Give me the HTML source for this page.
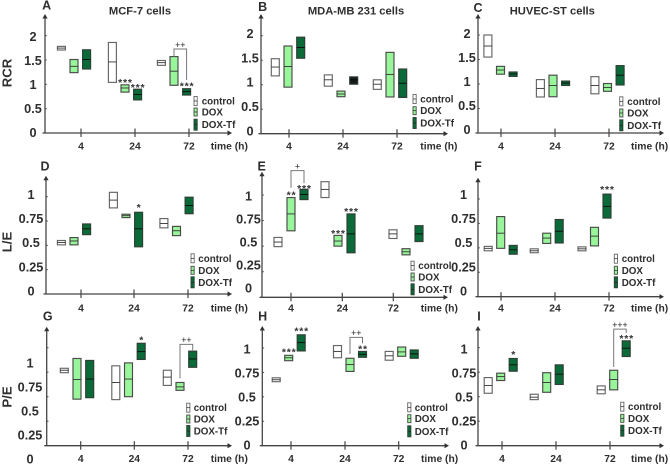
<!DOCTYPE html>
<html>
<head>
<meta charset="utf-8">
<title>Respiratory ratios by cell line</title>
<style>
html,body{margin:0;padding:0;background:#fff;width:670px;height:465px;overflow:hidden}
#chart{display:block;filter:blur(0.35px)}
text{font-family:"Liberation Sans",sans-serif;font-weight:bold;fill:#2e2e2e}
</style>
</head>
<body>
<svg id="chart" width="670" height="465" viewBox="0 0 670 465" xmlns="http://www.w3.org/2000/svg"></svg>
<script>
const huvecPeRatio = [[0.535,0.615,0.695],[0.665,0.705,0.74],[0.76,0.825,0.89],[0.47,0.495,0.525],[0.545,0.645,0.745],[0.625,0.73,0.825],[0.53,0.57,0.61],[0.57,0.675,0.77],[0.91,0.995,1.07]];
const mdaPeRatio = [[0.655,0.675,0.695],[0.87,0.9,0.925],[0.97,1.055,1.135],[0.9,0.965,1.025],[0.76,0.83,0.895],[0.905,0.935,0.965],[0.875,0.92,0.965],[0.915,0.96,1.01],[0.895,0.94,0.98]];
const mcf7PeRatio = [[0.745,0.77,0.79],[0.475,0.675,0.89],[0.49,0.68,0.87],[0.47,0.645,0.815],[0.5,0.68,0.845],[0.88,0.96,1.045],[0.615,0.7,0.77],[0.565,0.6,0.645],[0.8,0.885,0.965]];
const categories = ['4', '24', '72'];
const seriesNames = ['control', 'DOX', 'DOX-Tf'];
const rcrTicks = [0, 0.5, 1, 1.5, 2];
const ratioTicks = [0, 0.25, 0.5, 0.75, 1];

// Each entry: [low, median, high]; order: control, DOX, DOX-Tf at 4 h, then 24 h, then 72 h.
const mcf7Rcr = [[1.705,1.745,1.78],[1.24,1.37,1.51],[1.315,1.51,1.71],[1.04,1.46,1.86],[0.84,0.925,0.99],[0.68,0.79,0.9],[1.39,1.445,1.49],[0.98,1.27,1.57],[0.78,0.85,0.91]];
const mdaRcr = [[1.18,1.36,1.53],[0.95,1.37,1.79],[1.54,1.76,1.97],[0.97,1.1,1.2],[0.755,0.81,0.87],[1.01,1.1,1.16],[0.905,1.01,1.1],[0.75,1.21,1.66],[0.74,1.03,1.32]];
const huvecRcr = [[1.55,1.775,2.0],[1.2,1.285,1.36],[1.155,1.205,1.245],[0.735,0.91,1.09],[0.74,0.97,1.18],[0.97,1.02,1.06],[0.8,0.97,1.15],[0.85,0.93,1.01],[0.98,1.18,1.375]];
const mcf7Le = [[0.505,0.53,0.55],[0.505,0.545,0.58],[0.61,0.67,0.72],[0.885,0.965,1.045],[0.785,0.805,0.82],[0.485,0.67,0.84],[0.68,0.725,0.775],[0.6,0.65,0.695],[0.825,0.91,0.995]];
const mdaLe = [[0.495,0.54,0.585],[0.65,0.815,0.975],[0.955,1.005,1.055],[0.975,1.055,1.13],[0.5,0.55,0.605],[0.435,0.62,0.815],[0.575,0.62,0.66],[0.415,0.445,0.475],[0.545,0.62,0.7]];
const huvecLe = [[0.47,0.495,0.515],[0.495,0.65,0.82],[0.435,0.48,0.525],[0.45,0.47,0.49],[0.545,0.6,0.65],[0.55,0.67,0.79],[0.47,0.49,0.51],[0.52,0.62,0.71],[0.805,0.925,1.05]];

const seriesFill = ['#ffffff', '#98f59a', '#0a6a38'];
const seriesStroke = ['#666666', '#4a4a4a', '#2f3f35'];
const legendHeights = [9, 8, 11];
const boxWidth = 8;
const svg = document.getElementById('chart');

function add(parent, tag, attrs, content) {
  const el = document.createElementNS('http://www.w3.org/2000/svg', tag);
  for (const k in attrs) el.setAttribute(k, attrs[k]);
  if (content !== undefined) el.textContent = content;
  parent.appendChild(el);
  return el;
}

const panels = [
  {id:'a',letter:'A',lx:46.7,ly:5,values:mcf7Rcr,ticks:rcrTicks,title:'MCF-7 cells',tx:140,yTitle:'RCR',yTitleY:73,ax:45,base:133,top:14,end:232,unit:48.67,xt:[81,135,189],gc:[74,125,174],sp:12.6,lbX:33,lbZero:132.3,lbStep:48,xLabY:146,timeX:210.7,
   leg:{bx:194,tx:201.7,ys:[101,112,124.7]},stars:[[4,'***',4.7],[5,'***',4],[8,'***',5]],br:[{from:7,to:8,rise:39.7,lg:0,rg:8.7,label:'++'}]},
  {id:'b',letter:'B',lx:262.7,ly:6.7,values:mdaRcr,ticks:rcrTicks,title:'MDA-MB 231 cells',tx:356,yTitle:null,ax:261,base:133.7,top:14,end:448,unit:49,xt:[289,343,397],gc:[288,341,390],sp:12.7,lbX:250,lbZero:130.7,lbStep:48.6,xLabY:146,timeX:420.3,
   leg:{bx:413,tx:420.3,ys:[99,110.7,123]},stars:[],br:[]},
  {id:'c',letter:'C',lx:478,ly:7.3,values:huvecRcr,ticks:rcrTicks,title:'HUVEC-ST cells',tx:552.3,yTitle:null,ax:478,base:133,top:14,end:664,unit:49,xt:[501,555,609],gc:[500.5,553,607.5],sp:12.6,lbX:467,lbZero:129.3,lbStep:48,xLabY:146,timeX:631,
   leg:{bx:619.7,tx:627.3,ys:[101.3,113,125.3]},stars:[],br:[]},
  {id:'d',letter:'D',lx:45,ly:166,values:mcf7Le,ticks:ratioTicks,title:null,yTitle:'L/E',yTitleY:242,ax:46,base:294,top:175.7,end:232,unit:97.3,xt:[81,134,188],gc:[74,126,176.5],sp:12.6,lbX:31,lbZero:291,lbStep:96.8,xLabY:307.7,timeX:210.7,
   leg:{bx:191,tx:198.3,ys:[258.3,270.3,282.3]},stars:[[5,'*',7]],br:[]},
  {id:'e',letter:'E',lx:261.7,ly:166,values:mdaLe,ticks:ratioTicks,title:null,yTitle:null,ax:262,base:297.3,top:171.7,end:448,unit:102.3,xt:[291,342.3,393.3],gc:[291,338,406],sp:13,lbX:248.5,lbZero:287.7,lbStep:92,xLabY:307.7,timeX:420.7,
   leg:{bx:411,tx:418.3,ys:[265.7,277,289.3]},stars:[[1,'**',5],[2,'***',3],[4,'***',4],[5,'***',4.5]],br:[{from:1,to:2,rise:18.7,lg:9.7,rg:6.3,label:'+'}]},
  {id:'f',letter:'F',lx:478,ly:166,values:huvecLe,ticks:ratioTicks,title:null,yTitle:null,ax:478,base:296.7,top:177.7,end:664,unit:97.7,xt:[501,555,609],gc:[500.7,546.7,594.5],sp:12.5,lbX:463.5,lbZero:291,lbStep:96.8,xLabY:307.7,timeX:631,
   leg:{bx:614.3,tx:621.7,ys:[258.7,270.3,282.3]},stars:[[8,'***',7]],br:[]},
  {id:'g',letter:'G',lx:47.7,ly:316,values:mcf7PeRatio,ticks:ratioTicks,title:null,yTitle:'P/E',yTitleY:397,ax:46.7,base:445.7,top:326.7,end:232,unit:98,xt:[80.7,134.3,188],gc:[77,128.5,180],sp:12.7,lbX:30,lbZero:459,lbStep:96,xLabY:458.3,timeX:210.7,
   leg:{bx:186.7,tx:193.7,ys:[407.7,419,431]},stars:[[5,'*',5.5]],br:[{from:7,to:8,rise:6.7,lg:4.3,rg:1,label:'++'}]},
  {id:'h',letter:'H',lx:262.7,ly:316,values:mdaPeRatio,ticks:ratioTicks,title:null,yTitle:null,ax:262.3,base:445.7,top:326,end:449,unit:97.7,xt:[291,345,398.7],gc:[288.7,350,401.7],sp:12.5,lbX:247,lbZero:445,lbStep:96,xLabY:458.3,timeX:421,
   leg:{bx:407.7,tx:414.7,ys:[407.3,418.7,431.3]},stars:[[1,'***',5.5],[2,'***',6],[5,'**',4.5]],br:[{from:4,to:5,rise:14,lg:4.3,rg:8,label:'++'}]},
  {id:'i',letter:'I',lx:479,ly:316,values:huvecPeRatio,ticks:ratioTicks,title:null,yTitle:null,ax:478,base:445.7,top:326,end:664,unit:98,xt:[502,556,610],gc:[500.7,546.7,613.7],sp:12.5,lbX:464,lbZero:445,lbStep:96,xLabY:458.3,timeX:631,
   leg:{bx:620.7,tx:628,ys:[406.7,418.3,430.7]},stars:[[2,'*',6.5],[8,'***',4.5]],br:[{from:7,to:8,rise:11.7,lg:3.3,rg:8,label:'+++'}]}
];

panels.forEach(function (p) {
  const g = add(svg, 'g', {});
  
  

  const yScale = function (v) { return p.base - v * p.unit; };
  const boxX = function (i) {
    const c = Math.floor(i / 3);
    return p.gc[c] + (i % 3 - 1) * p.sp;
  };

  const letter = add(g, 'text', {x: p.lx, y: p.ly + 4.5, 'font-size': 12.5, 'text-anchor': 'middle'}, p.letter);
  
  

  if (p.title) {
    const title = add(g, 'text', {x: p.tx, y: 14.6, 'font-size': 11.2, 'text-anchor': 'middle'}, p.title);
    
    
  }

  if (p.yTitle) {
    const yt = add(g, 'text', {x: 0, y: 0, 'font-size': 13.2, 'text-anchor': 'middle', transform: 'translate(11.5,' + p.yTitleY + ') rotate(-90)'}, p.yTitle);
    
    
  }

  // axes
  const yAxis = add(g, 'line', {x1: p.ax, x2: p.ax, y1: p.base, y2: p.top + 3, stroke: '#444', 'stroke-width': 1.3});
  
  
  const yHead = add(g, 'polygon', {points: (p.ax - 2.6) + ',' + (p.top + 4.5) + ' ' + (p.ax + 2.6) + ',' + (p.top + 4.5) + ' ' + p.ax + ',' + p.top, fill: '#333'});
  
  
  const xAxis = add(g, 'line', {x1: p.ax - 2.5, x2: p.end - 3, y1: p.base, y2: p.base, stroke: '#444', 'stroke-width': 1.3});
  
  
  const xHead = add(g, 'polygon', {points: (p.end - 4.5) + ',' + (p.base - 2.6) + ' ' + (p.end - 4.5) + ',' + (p.base + 2.6) + ' ' + p.end + ',' + p.base, fill: '#333'});
  
  

  // y ticks
  p.ticks.forEach(function (v) {
    if (v !== 0) {
      const t = add(g, 'line', {x1: p.ax, x2: p.ax + 1.8, y1: yScale(v), y2: yScale(v), stroke: '#4a4a4a', 'stroke-width': 1});
      
      
    }
    const lb = add(g, 'text', {x: p.lbX, y: p.lbZero - v * p.lbStep + 4.6, 'font-size': 12.7, 'text-anchor': 'middle'}, String(v));
    
    
  });

  // x ticks and labels
  categories.forEach(function (c, i) {
    const t = add(g, 'line', {x1: p.xt[i], x2: p.xt[i], y1: p.base - 4.5, y2: p.base + 4, stroke: '#444', 'stroke-width': 1.2});
    
    
    const lb = add(g, 'text', {x: p.xt[i], y: p.xLabY + 3.7, 'font-size': 10.3, 'text-anchor': 'middle'}, c);
    
    
  });
  const time = add(g, 'text', {x: p.timeX, y: p.xLabY + 3.7, 'font-size': 10.3}, 'time (h)');
  
  

  // boxes
  p.values.forEach(function (b, i) {
    const s = i % 3;
    const x = boxX(i);
    const nearBlack = p.id === 'b' && i === 5;
    const box = add(g, 'g', {});
    
    
    add(box, 'rect', {x: x - boxWidth / 2, y: yScale(b[2]), width: boxWidth, height: yScale(b[0]) - yScale(b[2]), fill: nearBlack ? '#161a18' : seriesFill[s], stroke: seriesStroke[s], 'stroke-width': 1.15});
    add(box, 'line', {x1: x - boxWidth / 2, x2: x + boxWidth / 2, y1: yScale(b[1]), y2: yScale(b[1]), stroke: s === 2 ? '#0a0a0a' : '#333', 'stroke-width': 0.9});
  });

  // significance stars
  p.stars.forEach(function (st) {
    const el = add(g, 'text', {x: boxX(st[0]) + 0.5, y: yScale(p.values[st[0]][2]) - st[2] + 5.8, 'font-size': 10.5, 'text-anchor': 'middle', style: 'font-weight:bold;fill:#333;letter-spacing:0.8px'}, st[1]);
    
    
  });

  // brackets
  p.br.forEach(function (b) {
    const x1 = boxX(b.from), x2 = boxX(b.to);
    const yTop = yScale(p.values[b.to][2]) - b.rise;
    const y1 = yScale(p.values[b.from][2]) - b.lg;
    const y2 = yScale(p.values[b.to][2]) - b.rg;
    const path = add(g, 'polyline', {points: x1 + ',' + y1 + ' ' + x1 + ',' + yTop + ' ' + x2 + ',' + yTop + ' ' + x2 + ',' + y2, fill: 'none', stroke: '#777', 'stroke-width': 1});
    
    
    const lb = add(g, 'text', {x: (x1 + x2) / 2, y: yTop - 1.2, 'font-size': 8.8, 'text-anchor': 'middle', style: 'font-weight:normal;fill:#222'}, b.label);
    
    
  });

  // legend
  seriesNames.forEach(function (name, s) {
    const ly = p.leg.ys[s], h = legendHeights[s];
    const entry = add(g, 'g', {});
    
    
    add(entry, 'rect', {x: p.leg.bx, y: ly - h / 2, width: 3.2, height: h, fill: seriesFill[s], stroke: seriesStroke[s], 'stroke-width': 0.9});
    add(entry, 'line', {x1: p.leg.bx, x2: p.leg.bx + 3.2, y1: ly, y2: ly, stroke: '#222', 'stroke-width': 0.7});
    add(entry, 'text', {x: p.leg.tx, y: ly + 3.5, 'font-size': 9.8}, name);
  });
});
</script>
</body>
</html>
